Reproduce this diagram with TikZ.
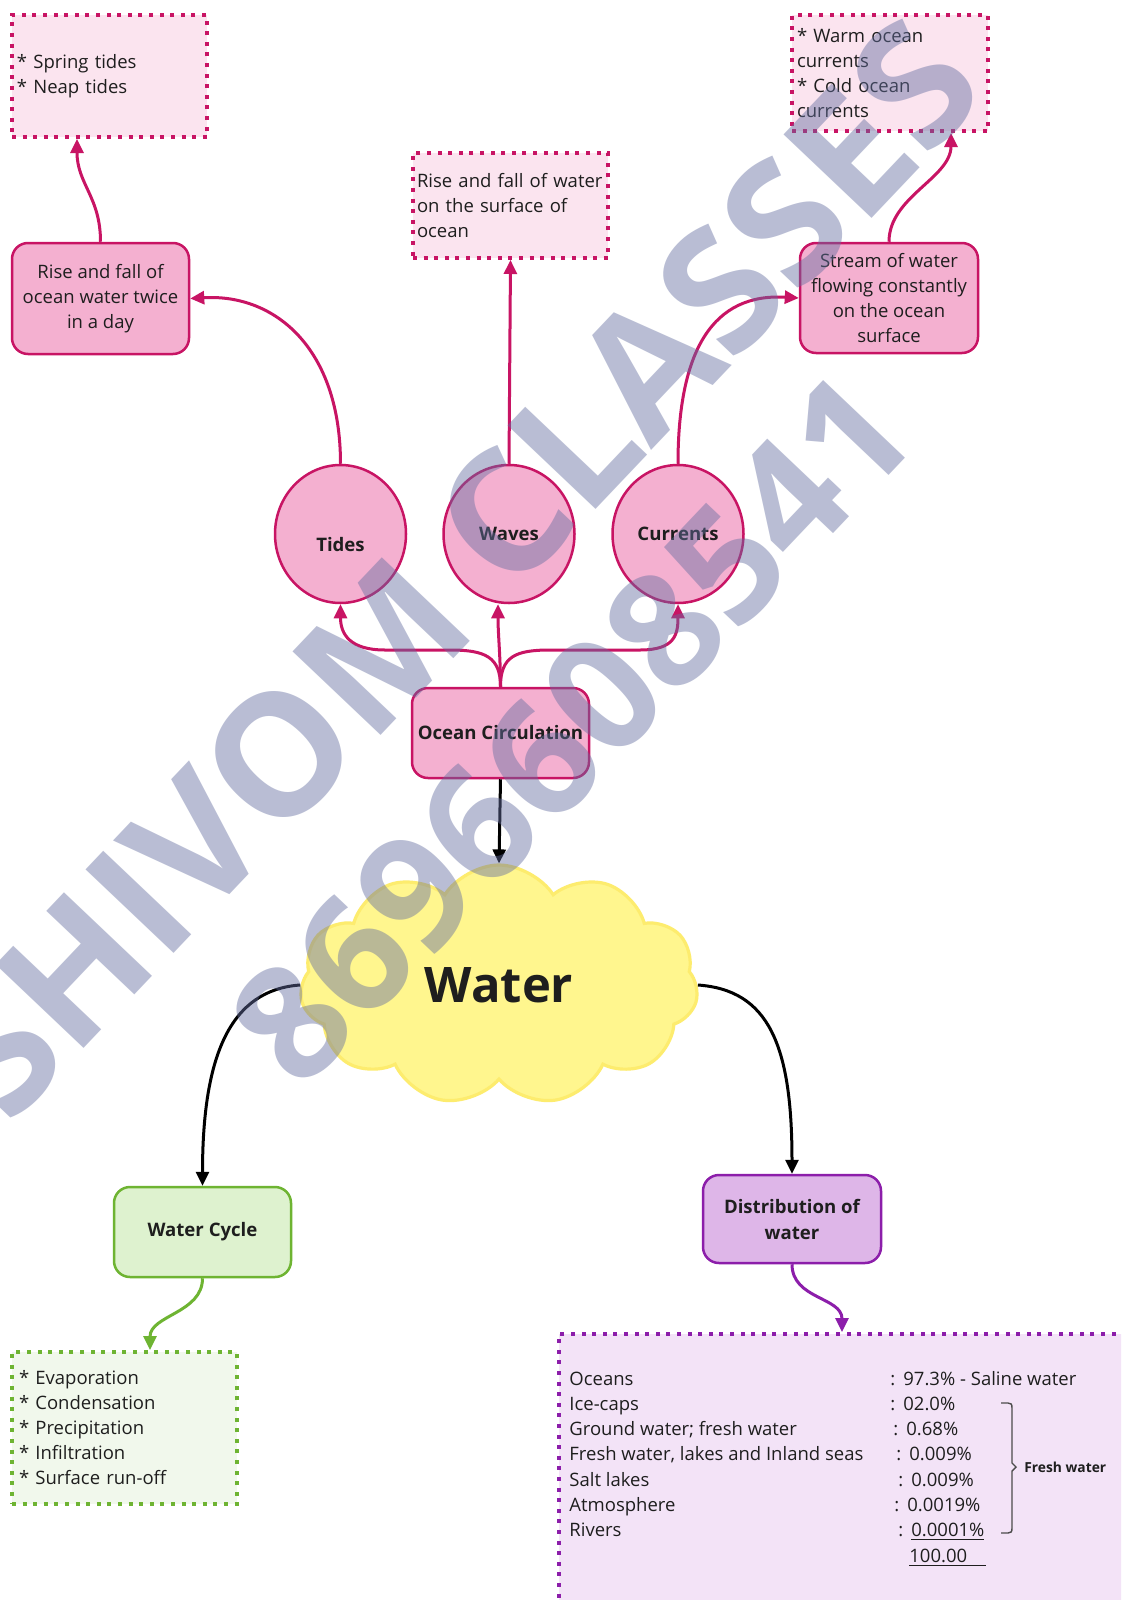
\documentclass[tikz,border=0pt]{standalone}
\usepackage{fontspec}
\setmainfont{Open Sans}
\usetikzlibrary{arrows.meta,shapes.geometric,shapes.symbols,calc}

\definecolor{pk}{RGB}{200,20,100}
\definecolor{pkfill}{RGB}{244,176,208}
\definecolor{pklight}{RGB}{251,228,239}
\definecolor{gr}{RGB}{110,180,50}
\definecolor{grfill}{RGB}{222,242,207}
\definecolor{grlight}{RGB}{241,248,236}
\definecolor{pu}{RGB}{140,30,170}
\definecolor{pufill}{RGB}{222,182,232}
\definecolor{pulight}{RGB}{243,227,247}
\definecolor{cloudfill}{RGB}{255,246,142}
\definecolor{cloudline}{RGB}{253,236,110}
\definecolor{txt}{RGB}{30,30,30}
\definecolor{wm}{RGB}{100,110,160}

\newcommand{\fsnorm}{\fontsize{9.25pt}{12.5pt}\selectfont}
\newcommand{\fsbold}{\fontsize{9.3pt}{13pt}\selectfont\bfseries}
\newcommand{\cw}[1]{\hspace{#1}\makebox[6.5pt][l]{:}}
\newcommand{\bul}{{*}~}

\tikzset{
  rbox/.style={rounded corners=8pt, line width=1.25pt, align=center, inner sep=0pt, text=txt},
  pkbox/.style={rbox, draw=pk, fill=pkfill, font=\fsnorm},
  dotbox/.style={line width=2pt, dash pattern=on 2pt off 3.3pt, align=left, inner xsep=2.5pt, inner ysep=0pt, text=txt, font=\fsnorm},
  circ/.style={ellipse, draw=pk, fill=pkfill, line width=1.25pt, minimum width=65.5pt, minimum height=69pt, inner sep=0pt, font=\fsbold, text=txt},
  pkarrow/.style={draw=pk, line width=1.5pt, -{Triangle[length=7pt,width=6.5pt]}},
  blarrow/.style={draw=black, line width=1.5pt, -{Triangle[length=7pt,width=6.5pt]}},
  grarrow/.style={draw=gr, line width=1.5pt, -{Triangle[length=7pt,width=6.5pt]}},
  puarrow/.style={draw=pu, line width=1.5pt, -{Triangle[length=7pt,width=6.5pt]}},
  wmark/.style={text=wm, text opacity=0.45, font=\fontsize{#1}{#1}\selectfont\bfseries, rotate=46.5, inner sep=0pt}
}

\begin{document}
\begin{tikzpicture}[x=0.5pt,y=-0.5pt]
\fill[white] (0,0) rectangle (1121,1600);
\path[use as bounding box, clip] (0,0) rectangle (1121,1600);

% top dotted boxes
\node[dotbox, draw=pk, fill=pklight, text width=92.5pt, minimum height=61pt] (spring) at (109.5,76) {\bul Spring tides\\\bul Neap tides};
\node[dotbox, draw=pk, fill=pklight, inner xsep=2pt, text width=93.5pt, minimum height=52.5pt] (wavesdesc) at (510.5,205.5) {\mbox{Rise and fall of water}\\on the surface of\\ocean};
\node[dotbox, draw=pk, fill=pklight, text width=93pt, minimum height=58pt] (currdesc) at (890,73) {\bul Warm ocean\\currents\\\bul Cold ocean\\currents};

% pink rounded boxes
\node[pkbox, minimum width=88.5pt, minimum height=55.5pt] (tidesdesc) at (100.5,298.5) {Rise and fall of\\ocean water twice\\in a day};
\node[pkbox, minimum width=89pt, minimum height=55pt] (stream) at (889,298) {Stream of water\\flowing constantly\\on the ocean\\surface};

% circles
\node[circ] (tides) at (340.5,534) {\rule{0pt}{18pt}Tides};
\node[circ] (waves) at (509,534) {Waves};
\node[circ] (currents) at (678,534) {Currents};

% ocean circulation
\node[rbox, draw=pk, fill=pkfill, font=\fsbold, minimum width=88.5pt, minimum height=45pt] (ocean) at (500.5,733) {Ocean Circulation};

% cloud
\node[cloud, cloud puffs=11, cloud puff arc=115, aspect=1.66, draw=cloudline, fill=cloudfill, line width=1.6pt, minimum width=199pt, minimum height=120pt, inner sep=0pt, text=txt, font=\fontsize{24.5pt}{26pt}\selectfont\bfseries] (cloud) at (499,985) {Water};

% lower boxes
\node[rbox, draw=gr, fill=grfill, font=\fsbold, minimum width=88.5pt, minimum height=45pt] (wc) at (202.5,1232) {Water Cycle};
\node[rbox, draw=pu, fill=pufill, font=\fsbold, minimum width=89pt, minimum height=44pt] (dist) at (792,1219) {Distribution of\\water};

\node[dotbox, draw=gr, fill=grlight, inner xsep=3.5pt, text width=105.5pt, minimum height=76pt] (wcdots) at (124.5,1428) {\bul Evaporation\\\bul Condensation\\\bul Precipitation\\\bul Infiltration\\\bul Surface run-off};

\node[dotbox, draw=pu, fill=pulight, anchor=north west, minimum width=300pt, minimum height=150pt] (distbox) at (557,1332) {};

\node[anchor=base west, inner sep=0pt, text=txt, font=\fontsize{9.25pt}{12.65pt}\selectfont] (disttable) at (569,1385) {%
\begin{tabular}[t]{@{}p{160.5pt}@{}l@{}}
Oceans & \cw{0pt}97.3\% - Saline water\\
Ice-caps & \cw{0pt}02.0\%\\
Ground water; fresh water & \cw{1.5pt}0.68\%\\
Fresh water, lakes and Inland seas & \cw{3pt}0.009\%\\
Salt lakes & \cw{4pt}0.009\%\\
Atmosphere & \cw{2pt}0.0019\%\\
Rivers & \cw{4pt}\underline{0.0001\%}\\
 & \hspace{9.5pt}\underline{100.00\hspace{9.5pt}}
\end{tabular}};

\draw[line width=0.7pt, color=black!70] (1001,1403) -- (1008,1403) .. controls (1011,1403) and (1012,1404) .. (1012,1408) -- (1012,1463) -- (1016,1467) -- (1012,1471) -- (1012,1528) .. controls (1012,1532) and (1011,1533) .. (1008,1533) -- (1001,1533);
\node[anchor=west, inner sep=0pt, text=txt, font=\fontsize{6.9pt}{8pt}\selectfont\bfseries] (freshlabel) at (1024,1467) {Fresh water};

% connectors
\draw[pkarrow] (tidesdesc.north) .. controls +(0,-45) and +(0,45) .. ($(spring.south)+(-32.5,0)$);
\draw[pkarrow] (stream.north) .. controls +(0,-45) and +(0,45) .. ($(currdesc.south)+(61,0)$);
\draw[pkarrow] (tides.north) .. controls +(0,-115) and +(85,-5) .. (tidesdesc.east);
\draw[pkarrow] (waves.north) -- (wavesdesc.south);
\draw[pkarrow] (currents.north) .. controls +(0,-115) and +(-85,-5) .. (stream.west);

\draw[pkarrow] (ocean.north) .. controls +(0,-30) and +(35,0) .. (450,650) -- (385,650) .. controls +(-35,0) and +(0,30) .. (tides.south);
\draw[pkarrow] (ocean.north) .. controls +(0,-30) and +(0,30) .. ($(waves.south)+(-11,0)$);
\draw[pkarrow] (ocean.north) .. controls +(0,-30) and +(-35,0) .. (550,650) -- (640,650) .. controls +(35,0) and +(0,30) .. (currents.south);

\draw[blarrow] (ocean.south) -- (cloud.north);
\draw[blarrow] (cloud.west) .. controls +(-70,5) and +(0,-130) .. (wc.north);
\draw[blarrow] (cloud.east) .. controls +(70,5) and +(0,-130) .. (dist.north);

\draw[grarrow] (wc.south) .. controls +(0,35) and +(0,-35) .. ($(wcdots.north)+(25.5,0)$);
\draw[puarrow] (dist.south) .. controls +(0,35) and +(0,-35) .. ($(distbox.north west)+(285,0)$);

% watermark
\node[wmark=85pt] (wm1) at (456,568) {SHIVOM CLASSES};
\node[wmark=79pt] (wm2) at (571,728) {8696608541};
\end{tikzpicture}
\end{document}
